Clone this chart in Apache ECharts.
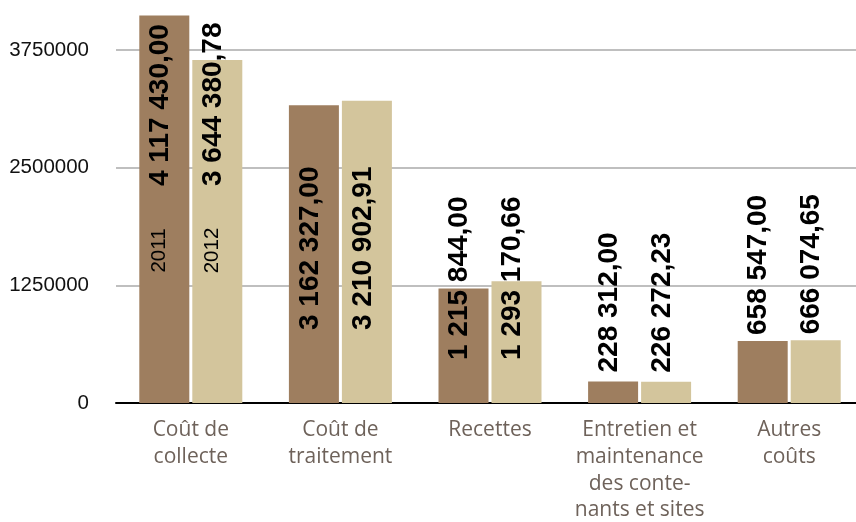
<!DOCTYPE html>
<html>
<head>
<meta charset="utf-8">
<script src="https://cdn.jsdelivr.net/npm/echarts@6/dist/echarts.min.js"></script>
<style>
  html, body { margin: 0; padding: 0; background: #fff; }
  #chart { width: 856px; height: 522px; }
</style>
</head>
<body>
<div id="chart"></div>
<script>
const categories = [
  'Coût de\ncollecte',
  'Coût de\ntraitement',
  'Recettes',
  'Entretien et\nmaintenance\ndes conte-\nnants et sites',
  'Autres\ncoûts'
]
const years = ['2011', '2012']
const values2011 = [4117430.00, 3162327.00, 1215844.00, 228312.00, 658547.00]
const values2012 = [3644380.78, 3210902.91, 1293170.66, 226272.23, 666074.65]
const yTicks = [0, 1250000, 2500000, 3750000]

// where each category's value labels sit (style only)
const labelPlace = [
  ['insideBottom', 217],
  ['insideBottom', 73],
  ['insideBottom', 43],
  ['top', 9],
  ['top', 6]
]
const yearTagAt = 1620000

const numFont = '"Liberation Sans", Arial, sans-serif'
const catFont = '"Open Sans", Lato, sans-serif'

function fr (v) {
  const parts = v.toFixed(2).split('.')
  return parts[0].replace(/\B(?=(\d{3})+(?!\d))/g, ' ') + ',' + parts[1]
}

function makeSeries (name, values, color) {
  return {
    name: name,
    type: 'bar',
    barWidth: 50,
    barGap: '6%',
    clip: false,
    itemStyle: { color: color },
    label: {
      show: true,
      rotate: 90,
      align: 'left',
      verticalAlign: 'middle',
      offset: [0, -4],
      fontFamily: numFont,
      fontWeight: 'bold',
      fontSize: 28,
      color: '#000',
      formatter: p => fr(p.value)
    },
    data: values.map((v, i) => ({
      value: v,
      label: { position: labelPlace[i][0], distance: labelPlace[i][1] }
    })),
    markPoint: {
      symbol: 'circle',
      symbolSize: 1,
      itemStyle: { color: 'rgba(0,0,0,0)' },
      label: {
        show: true,
        position: 'inside',
        rotate: 90,
        align: 'center',
        verticalAlign: 'middle',
        offset: [0, -5],
        fontFamily: numFont,
        fontSize: 20.5,
        color: '#000',
        formatter: name
      },
      data: [{ coord: [0, yearTagAt] }]
    }
  }
}

const chart = echarts.init(document.getElementById('chart'))
chart.setOption({
  animation: false,
  grid: { left: 116, right: -8, top: 50, bottom: 119, containLabel: false, outerBoundsMode: 'none' },
  xAxis: {
    type: 'category',
    data: categories,
    axisTick: { show: false },
    axisLine: { lineStyle: { color: '#000', width: 2 } },
    axisLabel: {
      interval: 0,
      margin: 14,
      fontFamily: catFont,
      fontSize: 21,
      lineHeight: 26.7,
      color: '#6e625a'
    }
  },
  yAxis: {
    type: 'value',
    min: yTicks[0],
    max: yTicks[yTicks.length - 1],
    interval: yTicks[1] - yTicks[0],
    axisLine: { show: false },
    axisTick: { show: false },
    splitLine: { lineStyle: { color: '#aaa', width: 1.6 } },
    axisLabel: {
      margin: 27,
      fontFamily: numFont,
      fontSize: 20.5,
      color: '#111',
      formatter: v => String(v)
    }
  },
  series: [
    makeSeries(years[0], values2011, '#9e7e5f'),
    makeSeries(years[1], values2012, '#d3c59c')
  ]
})
</script>
</body>
</html>
